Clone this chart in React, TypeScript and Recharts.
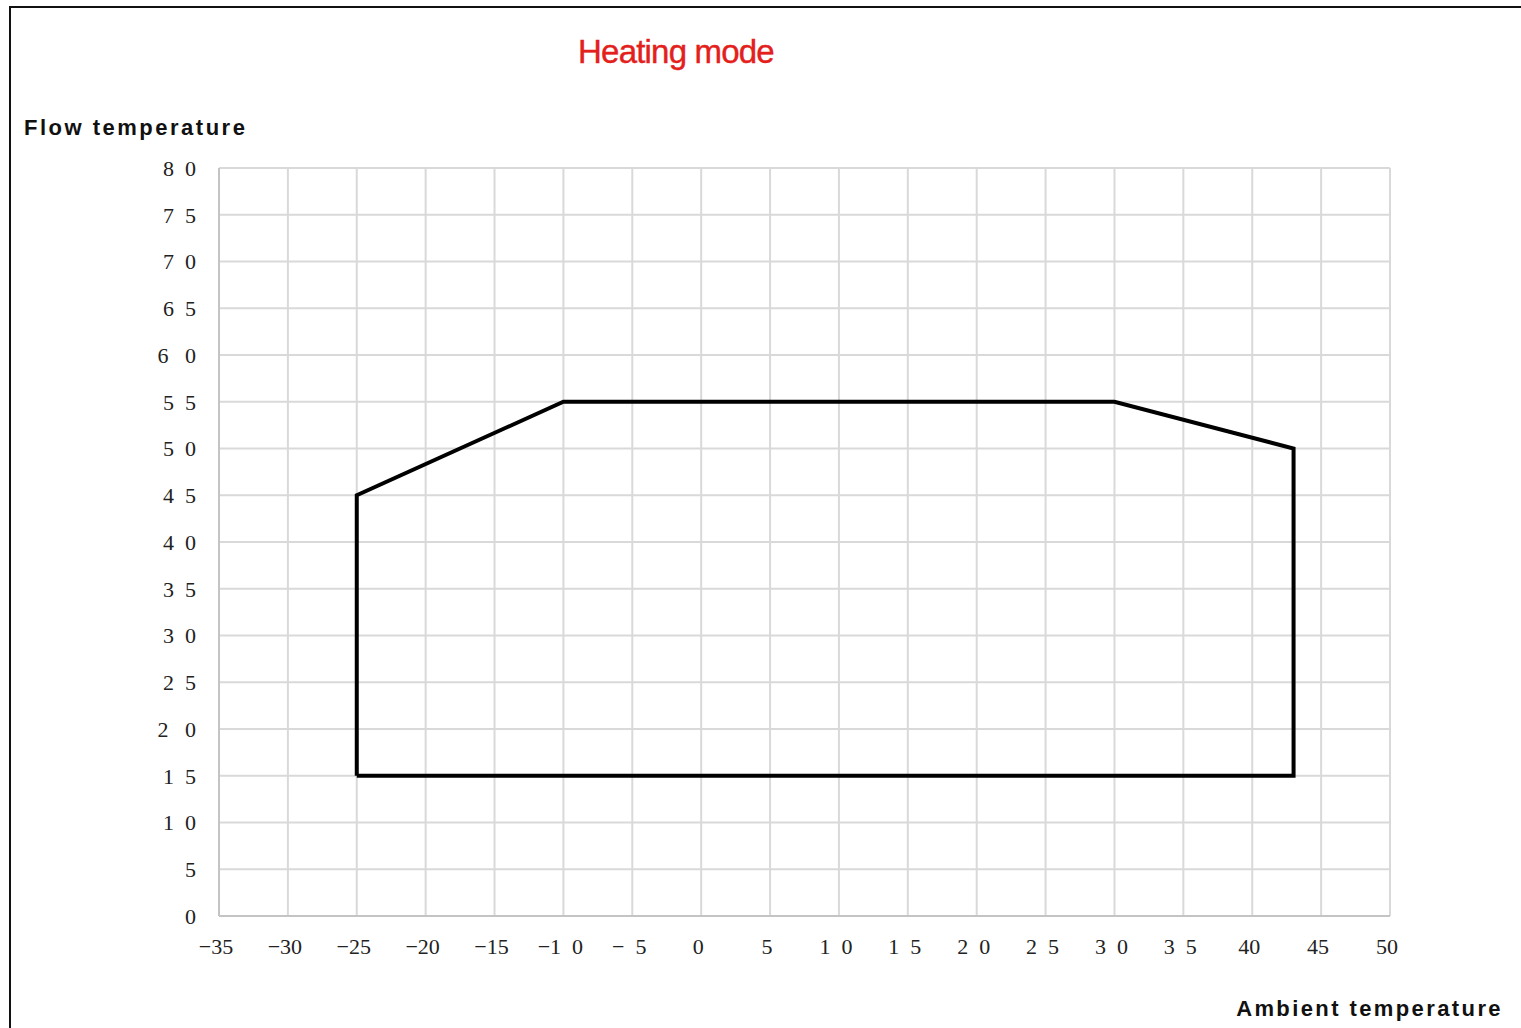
import React from "react";
import { LineChart, Line, XAxis, YAxis, CartesianGrid } from "recharts";

// operating envelope outline, in drawing order (closed)
const ambientTemps = [-25, -25, -10, 30, 43, 43, -25];
const flowTemps = [15, 45, 55, 55, 50, 15, 15];

const S = "\u2002"; // wide gap between digits, like the source labels
const SS = "\u2002\u2005";

const xTicks = [-35, -30, -25, -20, -15, -10, -5, 0, 5, 10, 15, 20, 25, 30, 35, 40, 45, 50];
const xTickLabels = [
  "\u221235", "\u221230", "\u221225", "\u221220", "\u221215", `\u22121${S}0`, `\u2212${S}5`,
  "0", "5", `1${S}0`, `1${S}5`, `2${S}0`, `2${S}5`, `3${S}0`, `3${S}5`, "40", "45", "50",
];

const yTicks = [0, 5, 10, 15, 20, 25, 30, 35, 40, 45, 50, 55, 60, 65, 70, 75, 80];
const yTickLabels = [
  "0", "5", `1${S}0`, `1${S}5`, `2${SS}0`, `2${S}5`, `3${S}0`, `3${S}5`, `4${S}0`,
  `4${S}5`, `5${S}0`, `5${S}5`, `6${SS}0`, `6${S}5`, `7${S}0`, `7${S}5`, `8${S}0`,
];

const envelope = ambientTemps.map((x, i) => ({ x, y: flowTemps[i] }));

const tickStyle = {
  fontSize: 22,
  fill: "#222",
  fontFamily: "'Liberation Serif', 'DejaVu Serif', serif",
};

const labelFont = "Arial, 'Liberation Sans', sans-serif";

export default function App() {
  return (
    <div style={{ position: "absolute", left: 0, top: 0, width: 1521, height: 1028, overflow: "hidden", background: "#fff" }}>
      <div
        style={{
          position: "absolute",
          left: 9,
          top: 6,
          width: 1540,
          height: 1050,
          border: "2px solid #111",
        }}
      />
      <div
        style={{
          position: "absolute",
          left: 0,
          width: 1352,
          top: 33,
          textAlign: "center",
          color: "#e3201b",
          fontFamily: labelFont,
          fontSize: 33,
          letterSpacing: -0.8,
          WebkitTextStroke: "0.4px #e3201b",
        }}
      >
        Heating mode
      </div>
      <div
        style={{
          position: "absolute",
          left: 24,
          top: 115,
          fontFamily: labelFont,
          fontWeight: "bold",
          fontSize: 22,
          letterSpacing: 2.5,
          color: "#111",
        }}
      >
        Flow temperature
      </div>
      <div
        style={{
          position: "absolute",
          right: 18,
          top: 996,
          fontFamily: labelFont,
          fontWeight: "bold",
          fontSize: 22,
          letterSpacing: 2.4,
          color: "#111",
        }}
      >
        Ambient temperature
      </div>
      <div style={{ position: "absolute", left: 0, top: 0 }}>
        <LineChart
          width={1521}
          height={1028}
          data={envelope}
          margin={{ top: 168, right: 131, left: 0, bottom: 0 }}
        >
          <CartesianGrid stroke="#d9d9d9" strokeWidth={2} />
          <XAxis
            dataKey="x"
            type="number"
            domain={[-35, 50]}
            ticks={xTicks}
            interval={0}
            allowDataOverflow
            height={112}
            tickLine={false}
            tickSize={0}
            tickMargin={22}
            axisLine={{ stroke: "#c4c4c4", strokeWidth: 2 }}
            tick={{ ...tickStyle, dx: -3 }}
            tickFormatter={(v: number) => xTickLabels[xTicks.indexOf(v)] ?? String(v)}
          />
          <YAxis
            dataKey="y"
            type="number"
            domain={[0, 80]}
            ticks={yTicks}
            interval={0}
            allowDataOverflow
            width={219}
            tickLine={false}
            tickSize={0}
            tickMargin={23}
            axisLine={{ stroke: "#c4c4c4", strokeWidth: 2 }}
            tick={tickStyle}
            tickFormatter={(v: number) => yTickLabels[yTicks.indexOf(v)] ?? String(v)}
          />
          <Line
            type="linear"
            dataKey="y"
            stroke="#000"
            strokeWidth={4}
            dot={false}
            activeDot={false}
            isAnimationActive={false}
          />
        </LineChart>
      </div>
    </div>
  );
}
